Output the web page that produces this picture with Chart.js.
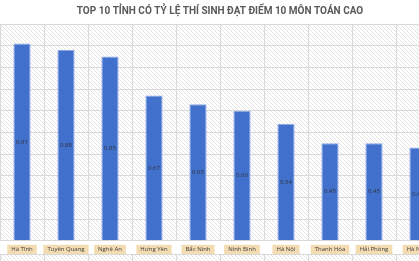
<!DOCTYPE html>
<html>
<head>
<meta charset="utf-8">
<script src="https://cdn.jsdelivr.net/npm/chart.js@4/dist/chart.umd.min.js"></script>
<style>
  html, body { margin: 0; padding: 0; background: #fff; overflow: hidden; }
  #wrap { width: 440px; height: 261px; position: relative; }
</style>
</head>
<body>
<div id="wrap"><canvas id="BarChart"></canvas></div>
<script>
// chart data
var provinces = ["Hà Tĩnh", "Tuyên Quang", "Nghệ An", "Hưng Yên", "Bắc Ninh", "Ninh Bình", "Hà Nội", "Thanh Hóa", "Hải Phòng", "Hà Nam"];
var rates = [0.91, 0.88, 0.85, 0.67, 0.63, 0.60, 0.54, 0.45, 0.45, 0.43];
var chartTitle = "TOP 10 TỈNH CÓ TỶ LỆ THÍ SINH ĐẠT ĐIỂM 10 MÔN TOÁN CAO";

// diagonal hatch for the plot background
function makeHatch(){
    var c = document.createElement("canvas");
    c.width = 4; c.height = 4;
    var g = c.getContext("2d");
    g.fillStyle = "#ffffff";
    g.fillRect(0, 0, 4, 4);
    g.strokeStyle = "#e4e4e4";
    g.lineWidth = 1;
    g.beginPath();
    g.moveTo(0, 0); g.lineTo(4, 4);
    g.moveTo(-1, 3); g.lineTo(1, 5);
    g.moveTo(3, -1); g.lineTo(5, 1);
    g.stroke();
    return g.createPattern(c, "repeat");
}

var hatchBg = {
    id: "hatchBg",
    beforeDraw(chart){
        var ctx = chart.ctx, area = chart.chartArea;
        ctx.save();
        ctx.fillStyle = makeHatch();
        ctx.fillRect(area.left, area.top, area.right - area.left, area.bottom - area.top);
        // strip under the labels
        var x = chart.scales.x;
        var y0 = 254;
        ctx.fillRect(area.left, y0, area.right - area.left, chart.height - y0);
        ctx.strokeStyle = "#d9d9d9";
        ctx.lineWidth = 1;
        ctx.beginPath();
        ctx.moveTo(area.left, y0 + 0.5);
        ctx.lineTo(area.right, y0 + 0.5);
        var step = x.getPixelForValue(1) - x.getPixelForValue(0);
        for(let i = 0; i <= provinces.length; i++){
            let px = Math.round(x.getPixelForValue(i) - step / 2) + 0.5;
            ctx.moveTo(px, y0);
            ctx.lineTo(px, chart.height);
        }
        ctx.stroke();
        ctx.restore();
    }
};

// value labels in the middle of each bar
var barValues = {
    id: "barValues",
    afterDatasetsDraw(chart){
        var ctx = chart.ctx;
        var meta = chart.getDatasetMeta(0);
        ctx.save();
        ctx.font = "6px 'Open Sans', sans-serif";
        ctx.fillStyle = "#333333";
        ctx.textAlign = "center";
        ctx.textBaseline = "middle";
        meta.data.forEach(function(bar, i){
            var mid = (bar.y + bar.base) / 2;
            ctx.fillText(rates[i].toFixed(2), bar.x, mid);
        });
        ctx.restore();
    }
};

var config = {
    type: "bar",
    data: {
        labels: provinces,
        datasets: [{
            label: "Tỷ lệ",
            data: rates,
            backgroundColor: "#4170cd",
            borderColor: "#8aa6e0",
            borderWidth: 1,
            categoryPercentage: 1,
            barPercentage: 0.39
        }]
    },
    options: {
        responsive: true,
        maintainAspectRatio: false,
        animation: false,
        layout: { padding: { top: 0, bottom: 3, left: 0, right: 0 } },
        plugins: {
            legend: { display: false },
            tooltip: { enabled: false },
            title: {
                display: true,
                text: chartTitle,
                color: "#595959",
                font: { family: "Roboto, sans-serif", size: 10, weight: "bold" },
                padding: { top: 5, bottom: 7 }
            }
        },
        scales: {
            x: {
                grid: { color: "#d9d9d9", drawTicks: false, offset: true },
                border: { display: false },
                ticks: {
                    color: "#404040",
                    font: { family: "'Open Sans', sans-serif", size: 6 },
                    padding: 5,
                    maxRotation: 0,
                    autoSkip: false,
                    showLabelBackdrop: true,
                    backdropColor: "#f4dcb2",
                    backdropPadding: { top: 1, bottom: 1, left: 4, right: 4 }
                }
            },
            y: {
                display: true,
                min: 0,
                max: 1,
                grid: { color: "#d9d9d9", drawTicks: false },
                border: { display: false },
                ticks: { display: false, stepSize: 0.1 }
            }
        }
    },
    plugins: [hatchBg, barValues]
};

var canvasElement = document.getElementById("BarChart");
window.myBar = new Chart(canvasElement, config);
</script>
</body>
</html>
